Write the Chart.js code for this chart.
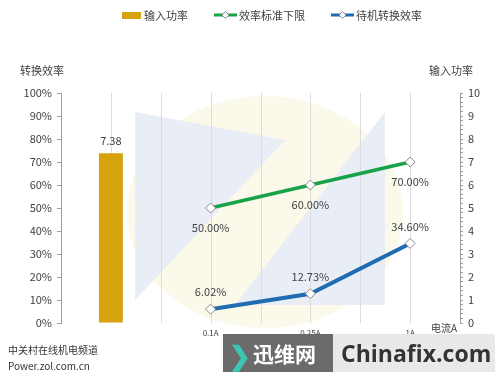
<!DOCTYPE html>
<html>
<head>
<meta charset="utf-8">
<script src="https://cdn.jsdelivr.net/npm/chart.js@4"></script>
<style>
  html, body { margin: 0; padding: 0; background: #fff; }
  #wrap { position: relative; width: 500px; height: 377px; overflow: hidden; }
  #c { position: absolute; left: 0; top: 0; }
  .zol { position: absolute; left: 8px; font: 10px "Noto Sans CJK SC", sans-serif; color: #333; }
  #banner { position: absolute; left: 223px; top: 334px; width: 272px; height: 38px; display: flex; }
  #banner .dark { width: 110px; background: #6b6b6b; color: #fff; font: bold 21px "Noto Sans CJK SC", sans-serif;
    display: flex; align-items: center; }
  #banner .dark span.arrow { color: #3cc7b4; font-size: 26px; margin: 0 2px 0 6px; }
  #banner .light { flex: 1; background: #e9e9e9; color: #333; font: bold 23px "Open Sans", sans-serif;
    display: flex; align-items: center; padding-left: 8px; }
</style>
</head>
<body>
<div id="wrap">
  <canvas id="c" width="500" height="377"></canvas>
  <div class="zol" style="top:342px">中关村在线机电频道</div>
  <div class="zol" style="top:358px">Power.zol.com.cn</div>
  <div id="banner">
    <div class="dark"><span class="arrow">❯</span>迅维网</div>
    <div class="light">Chinafix.com</div>
  </div>
</div>
<script>
// data
const categories = ["", "0.1A", "0.25A", "1A"];
const powerInput = [7.38, null, null, null];          // 输入功率 (right axis)
const effStandard = [null, 50, 60, 70];               // 效率标准下限 (%)
const effStandby = [null, 6.02, 12.73, 34.60];        // 待机转换效率 (%)

const FONT = '"Noto Sans CJK SC", "Noto Sans", sans-serif';
const TEXT = "#404040";

// faint logo in the plot background
const bgLogo = {
  id: "bgLogo",
  beforeDatasetsDraw(chart) {
    const ctx = chart.ctx;
    ctx.save();
    ctx.fillStyle = "rgba(250, 249, 234, 1)";
    ctx.beginPath();
    ctx.ellipse(265, 212, 138, 116, 0, 0, Math.PI * 2);
    ctx.fill();
    ctx.fillStyle = "rgba(233, 237, 246, 1)";
    ctx.beginPath();
    ctx.moveTo(135, 112); ctx.lineTo(285, 140); ctx.lineTo(135, 300); ctx.closePath();
    ctx.fill();
    ctx.beginPath();
    ctx.moveTo(385, 112); ctx.lineTo(385, 305); ctx.lineTo(235, 305); ctx.closePath();
    ctx.fill();
    ctx.restore();
  }
};

// vertical grid lines every half category
const halfGrid = {
  id: "halfGrid",
  beforeDatasetsDraw(chart) {
    const { ctx, chartArea, scales } = chart;
    const x = scales.x;
    const step = x.getPixelForValue(1) - x.getPixelForValue(0);
    ctx.save();
    ctx.strokeStyle = "#dcdcdc";
    ctx.lineWidth = 1;
    for (let i = 0; i < categories.length; i++) {
      const c = x.getPixelForValue(i);
      [c, c + step / 2].forEach(px => {
        if (px >= chartArea.right - 2) return;
        ctx.beginPath();
        ctx.moveTo(Math.round(px) + 0.5, chartArea.top);
        ctx.lineTo(Math.round(px) + 0.5, chartArea.bottom);
        ctx.stroke();
      });
    }
    ctx.restore();
  }
};

// value labels next to marks
const valueLabels = {
  id: "valueLabels",
  afterDatasetsDraw(chart) {
    const ctx = chart.ctx;
    ctx.save();
    ctx.font = "11px " + FONT;
    ctx.fillStyle = TEXT;
    ctx.textAlign = "center";
    ctx.textBaseline = "middle";
    chart.data.datasets.forEach((ds, di) => {
      const meta = chart.getDatasetMeta(di);
      meta.data.forEach((el, i) => {
        const v = ds.data[i];
        if (v == null) return;
        const txt = ds.type === "bar" ? v.toFixed(2) : v.toFixed(2) + "%";
        ctx.fillText(txt, el.x, el.y + ds.labelOffset);
      });
    });
    ctx.restore();
  }
};

// titles, legend and x-axis unit
const extras = {
  id: "extras",
  afterDraw(chart) {
    const ctx = chart.ctx;
    const ds = chart.data.datasets;
    ctx.save();
    ctx.font = "11px " + FONT;
    ctx.fillStyle = TEXT;
    ctx.textBaseline = "middle";
    ctx.textAlign = "center";
    ctx.fillText("转换效率", 42, 71);
    ctx.fillText("输入功率", 451, 71);
    ctx.font = "10px " + FONT;
    ctx.fillText("电流A", 444, 328);

    // legend
    ctx.font = "11px " + FONT;
    ctx.textAlign = "left";
    const ly = 15;
    let lx = 122;
    ds.forEach(d => {
      if (d.type === "bar") {
        ctx.fillStyle = d.backgroundColor;
        ctx.fillRect(lx, ly - 3, 19, 7);
        lx += 22;
      } else {
        ctx.strokeStyle = d.borderColor;
        ctx.lineWidth = 3;
        ctx.beginPath(); ctx.moveTo(lx, ly); ctx.lineTo(lx + 23, ly); ctx.stroke();
        ctx.fillStyle = "#fff";
        ctx.strokeStyle = "#888";
        ctx.lineWidth = 1;
        ctx.beginPath();
        ctx.moveTo(lx + 11.5, ly - 3.5); ctx.lineTo(lx + 15, ly); ctx.lineTo(lx + 11.5, ly + 3.5); ctx.lineTo(lx + 8, ly);
        ctx.closePath(); ctx.fill(); ctx.stroke();
        lx += 25;
      }
      ctx.fillStyle = TEXT;
      ctx.fillText(d.label, lx, ly + 1);
      lx += ctx.measureText(d.label).width + 26;
    });
    ctx.restore();
  }
};

const marker = {
  pointStyle: "rectRot",
  pointRadius: 5,
  pointBackgroundColor: "#fff",
  pointBorderColor: "#8a8a8a",
  pointBorderWidth: 1
};

new Chart(document.getElementById("c"), {
  data: {
    labels: categories,
    datasets: [
      {
        type: "bar",
        label: "输入功率",
        data: powerInput,
        yAxisID: "y1",
        backgroundColor: "#D6A30E",
        categoryPercentage: 1,
        barPercentage: 0.24,
        labelOffset: -12,
        order: 3
      },
      Object.assign({
        type: "line",
        label: "效率标准下限",
        data: effStandard,
        yAxisID: "y",
        borderColor: "#17A34A",
        borderWidth: 3.5,
        labelOffset: 20,
        order: 1
      }, marker),
      Object.assign({
        type: "line",
        label: "待机转换效率",
        data: effStandby,
        yAxisID: "y",
        borderColor: "#1F6DB0",
        borderWidth: 4,
        labelOffset: -17,
        order: 2
      }, marker)
    ]
  },
  options: {
    responsive: false,
    animation: false,
    layout: { padding: { top: 93, left: 0, right: 0, bottom: 0 } },
    plugins: { legend: { display: false }, tooltip: { enabled: false } },
    scales: {
      x: {
        type: "category",
        offset: true,
        grid: { display: false },
        border: { display: false },
        ticks: { font: { size: 8, family: FONT }, color: TEXT, padding: -3, maxRotation: 0 },
        afterFit: s => { s.height = 54; }
      },
      y: {
        position: "left",
        min: 0, max: 100,
        ticks: { stepSize: 10, callback: v => v + "%", font: { size: 11, family: FONT }, color: TEXT, padding: 5 },
        grid: { drawOnChartArea: false, tickLength: 4, color: "#a0a0a0" },
        border: { color: "#a0a0a0" },
        afterFit: s => { s.width = 61; }
      },
      y1: {
        position: "right",
        min: 0, max: 10,
        ticks: {
          stepSize: 0.2,
          autoSkip: false,
          callback: v => (Math.abs(v - Math.round(v)) < 1e-6 ? Math.round(v) : ""),
          font: { size: 11, family: FONT }, color: TEXT, padding: 5
        },
        grid: { drawOnChartArea: false, tickLength: 3, color: "#a0a0a0" },
        border: { color: "#a0a0a0" },
        afterFit: s => { s.width = 40; }
      }
    }
  },
  plugins: [bgLogo, halfGrid, valueLabels, extras]
});
</script>
</body>
</html>
